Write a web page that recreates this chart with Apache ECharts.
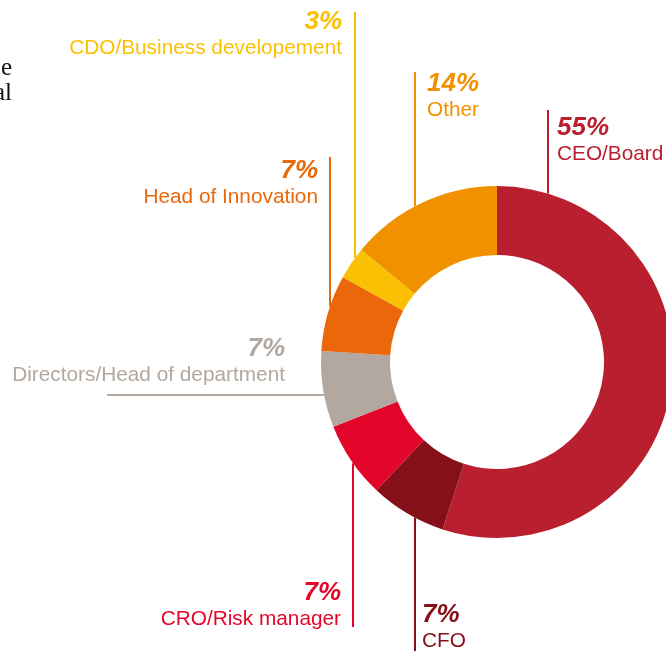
<!DOCTYPE html>
<html>
<head>
<meta charset="utf-8">
<script src="https://cdn.jsdelivr.net/npm/echarts@6/dist/echarts.min.js"></script>
<style>
  html, body { margin: 0; padding: 0; background: #fff; }
  #chart { width: 666px; height: 651px; }
</style>
</head>
<body>
<div id="chart"></div>
<script>
  // slices, clockwise from 12 o'clock
  var roles = ['CEO/Board', 'CFO', 'CRO/Risk manager', 'Directors/Head of department',
    'Head of Innovation', 'CDO/Business developement', 'Other'];
  var shares = [55, 7, 7, 7, 7, 3, 14];
  var colors = ['#B91F2E', '#85101A', '#E4062A', '#B2A89F', '#EA670A', '#FBC003', '#F29100'];

  var cx = 497, cy = 362, rIn = 107, rOut = 176;

  // where each label sits and where its leader line starts
  var spots = [
    { x: 557, y: 115, align: 'left',  dir: 'up',   lx: 548, ly: 110 },
    { x: 422, y: 602, align: 'left',  dir: 'down', lx: 415, ly: 660 },
    { x: 341, y: 580, align: 'right', dir: 'down', lx: 353, ly: 627 },
    { x: 285, y: 336, align: 'right', dir: 'left', lx: 107, ly: 395 },
    { x: 318, y: 158, align: 'right', dir: 'up',   lx: 330, ly: 157 },
    { x: 342, y: 9,   align: 'right', dir: 'up',   lx: 355, ly: 12 },
    { x: 427, y: 71,  align: 'left',  dir: 'up',   lx: 415, ly: 72 }
  ];

  function linePoints(s) {
    var ex, ey;
    if (s.dir === 'left') {
      ey = s.ly;
      ex = cx - Math.sqrt(rOut * rOut - (s.ly - cy) * (s.ly - cy));
    } else {
      ex = s.lx;
      var d = Math.sqrt(rOut * rOut - (s.lx - cx) * (s.lx - cx));
      ey = s.dir === 'up' ? cy - d : cy + d;
    }
    return [[s.lx, s.ly], [s.lx, s.ly], [ex, ey]];
  }

  var pieData = [];
  for (var i = 0; i < roles.length; i++) {
    pieData.push({
      name: roles[i],
      value: shares[i],
      itemStyle: { color: colors[i] },
      label: {
        color: colors[i],
        align: spots[i].align,
        rich: {
          p: { fontSize: 26, fontWeight: 'bold', fontStyle: 'italic', lineHeight: 26, color: colors[i], align: spots[i].align },
          n: { fontSize: 20.8, lineHeight: 26, color: colors[i], align: spots[i].align }
        }
      },
      labelLine: { lineStyle: { color: colors[i], width: 2 } }
    });
  }

  var chart = echarts.init(document.getElementById('chart'));
  chart.setOption({
    backgroundColor: '#fff',
    animation: false,
    textStyle: { fontFamily: 'Liberation Sans, Arial, sans-serif' },
    graphic: [
      { type: 'text', x: 12, y: 81, style: { text: 'e', font: '25px "Liberation Serif", serif', fill: '#111', align: 'right', verticalAlign: 'bottom' } },
      { type: 'text', x: 12, y: 106, style: { text: 'al', font: '25px "Liberation Serif", serif', fill: '#111', align: 'right', verticalAlign: 'bottom' } }
    ],
    series: [
      {
        type: 'pie',
        center: [cx, cy],
        radius: [rIn, rOut],
        startAngle: 90,
        clockwise: true,
        avoidLabelOverlap: false,
        silent: true,
        label: {
          show: true,
          position: 'outside',
          formatter: function (p) {
            return '{p|' + p.value + '%}\n{n|' + p.name + '}';
          }
        },
        labelLine: { show: true, smooth: false },
        labelLayout: function (params) {
          var s = spots[params.dataIndex];
          return {
            x: s.x,
            y: s.y,
            align: s.align,
            verticalAlign: 'top',
            labelLinePoints: linePoints(s)
          };
        },
        data: pieData
      }
    ]
  });
</script>
</body>
</html>
